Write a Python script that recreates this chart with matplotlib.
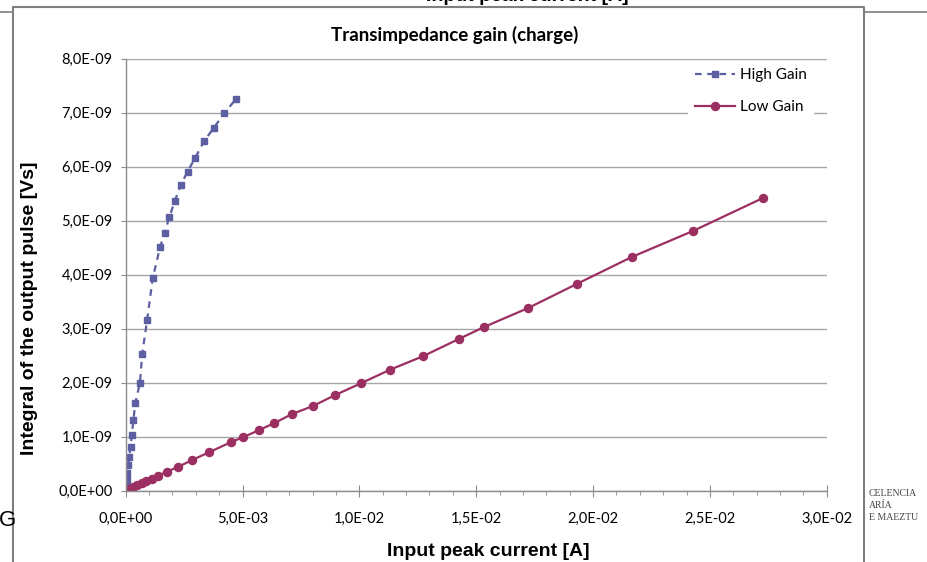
import matplotlib
matplotlib.use("Agg")
import matplotlib.pyplot as plt
from matplotlib.lines import Line2D
from matplotlib.ticker import FuncFormatter, MultipleLocator

# High Gain: input peak current [A] / integral of output pulse [Vs]
high_x = [0.0, 0.02, 0.04, 0.07, 0.11, 0.15, 0.21, 0.26, 0.33, 0.41, 0.61, 0.71, 0.92,
          1.155, 1.47, 1.67, 1.87, 2.10, 2.35, 2.65, 2.98, 3.35, 3.77, 4.22, 4.73]
high_y = [0.02, 0.09, 0.20, 0.33, 0.48, 0.63, 0.81, 1.03, 1.31, 1.62, 2.00, 2.54, 3.17,
          3.93, 4.51, 4.78, 5.07, 5.36, 5.66, 5.91, 6.17, 6.47, 6.72, 6.99, 7.26]
high_x = [v * 1e-3 for v in high_x]
high_y = [v * 1e-9 for v in high_y]

# Low Gain
low_x = [0.0, 0.04, 0.18, 0.33, 0.50, 0.69, 0.87, 1.11, 1.40, 1.75, 2.24, 2.85, 3.56,
         4.51, 5.02, 5.70, 6.35, 7.12, 8.02, 8.96, 10.07, 11.31, 12.72, 14.26, 15.33,
         17.21, 19.31, 21.67, 24.28, 27.27]
low_y = [0.0, 0.01, 0.04, 0.07, 0.10, 0.14, 0.175, 0.22, 0.28, 0.35, 0.44, 0.57, 0.71,
         0.90, 0.99, 1.12, 1.25, 1.42, 1.57, 1.77, 1.99, 2.24, 2.49, 2.81, 3.03,
         3.38, 3.83, 4.33, 4.81, 5.42]
low_x = [v * 1e-3 for v in low_x]
low_y = [v * 1e-9 for v in low_y]

W, H = 928, 562
BLUE = "#5d5fa3"
MAROON = "#9b2f62"
GRAY = "#8c8c8c"
XLF = "Lato"


def fx(px):
    return px / W


def fy(py):
    return 1 - py / H


def sci_comma(v, pos):
    if v == 0:
        return "0,0E+00"
    return f"{v:.1E}".replace(".", ",")


fig = plt.figure(figsize=(W / 100, H / 100), dpi=100)

# chart area frame and the bits of the page around it
fig.add_artist(Line2D([fx(13.3), fx(13.3), fx(864), fx(864)],
                      [0, fy(6.7), fy(6.7), 0], color="#7f7f7f", lw=1.5))
fig.add_artist(Line2D([0, fx(13.3)], [fy(12), fy(12)], color="#7f7f7f", lw=1.2))
fig.add_artist(Line2D([fx(864), 1], [fy(12), fy(12)], color="#7f7f7f", lw=1.2))
fig.text(fx(527), fy(1), "Input peak current [A]", ha="center", va="baseline",
         fontsize=14, fontweight="bold", family="Liberation Sans")
fig.text(fx(-1), fy(520), "G", ha="left", va="center", fontsize=16,
         family="Liberation Sans")
for i, s in enumerate(["CELENCIA", "ARÍA", "E MAEZTU"]):
    fig.text(fx(869), fy(493 + 12 * i), s, ha="left", va="center", fontsize=7,
             family="Liberation Serif", color="#444444")

ax = fig.add_axes([fx(125.7), fy(490.7), fx(826.7) - fx(125.7), fy(58.7) - fy(490.7)])
ax.set_xlim(0, 0.03)
ax.set_ylim(0, 8e-9)

ax.plot(high_x, high_y, color=BLUE, lw=1.6, ls=(0, (3, 2.5)), marker="s", ms=5,
        label="High Gain")
ax.plot(low_x, low_y, color=MAROON, lw=1.6, marker="o", ms=5.8, label="Low Gain")

ax.xaxis.set_major_locator(MultipleLocator(0.005))
ax.xaxis.set_minor_locator(MultipleLocator(0.001))
ax.yaxis.set_major_locator(MultipleLocator(1e-9))
ax.xaxis.set_major_formatter(FuncFormatter(sci_comma))
ax.yaxis.set_major_formatter(FuncFormatter(sci_comma))

ax.grid(axis="y", color="#a6a6a6", lw=1.0)
ax.set_axisbelow(True)
for s in ["top", "right"]:
    ax.spines[s].set_visible(False)
for s in ["left", "bottom"]:
    ax.spines[s].set_color(GRAY)
    ax.spines[s].set_linewidth(1.0)

ax.tick_params(axis="x", which="major", direction="inout", length=8, color=GRAY,
               pad=11, labelsize=10.5)
ax.tick_params(axis="x", which="minor", direction="out", length=3, color=GRAY)
ax.tick_params(axis="y", direction="out", length=3.6, color=GRAY, pad=6, labelsize=10.5)
for lab in ax.get_xticklabels() + ax.get_yticklabels():
    lab.set_family(XLF)

leg = ax.legend(loc="upper left", frameon=True, fancybox=False,
                edgecolor="none", facecolor="white", framealpha=1,
                prop={"family": XLF, "size": 11}, labelspacing=1.15,
                handlelength=2.6, handletextpad=0.3, borderpad=0.5)
leg.set_bbox_to_anchor((fx(680), fy(53)), transform=fig.transFigure)

fig.text(fx(455), fy(35), "Transimpedance gain (charge)", ha="center", va="center",
         fontsize=13.5, fontweight="bold", family=XLF)
fig.text(fx(30), fy(308), "Integral of the output pulse [Vs]", ha="center",
         va="center", rotation=90, fontsize=14, fontweight="bold",
         family="Liberation Sans")
fig.text(fx(488), fy(551), "Input peak current [A]", ha="center", va="center",
         fontsize=14, fontweight="bold", family="Liberation Sans")

fig.savefig("out.png", dpi=100)
